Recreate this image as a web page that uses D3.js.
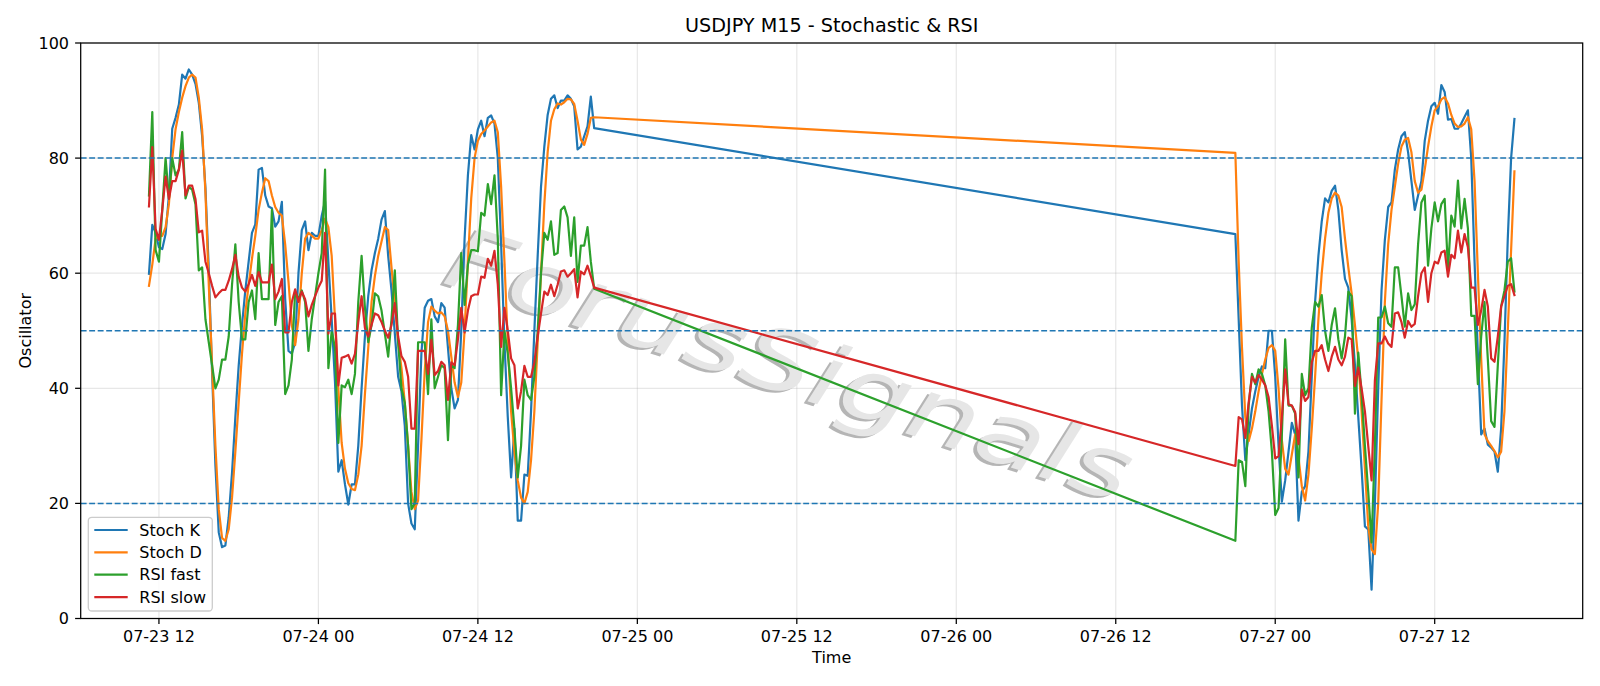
<!DOCTYPE html>
<html><head><meta charset="utf-8">
<script src="https://cdn.jsdelivr.net/npm/d3@7"></script>
<style>body{margin:0;background:#fff}svg{display:block}text{font-family:"DejaVu Sans",sans-serif;fill:#000}</style>
</head><body><svg id="c" width="1600" height="686"></svg>
<script>
const title = "USDJPY M15 - Stochastic & RSI";
const xLabel = "Time", yLabel = "Oscillator";
const watermark = "ForusSignals";
const seg1Start = "2025-07-23T11:15:00Z";
const seg2Start = "2025-07-26T21:00:00Z";
const barMinutes = 15;

const stochK1 = [59.9,68.4,67,64.5,64.2,66.8,73.5,85.1,87,89.3,
94.5,93.8,95.4,94.5,92.9,89.6,83.8,74.8,60.7,42.7,
26.6,15,12.4,12.7,17.6,25.3,35,43.9,51,57,
62,67,68.5,78,78.3,73.5,71.6,71.3,68.1,69,
72.4,55.5,46.5,46,48,60,67.5,69,64,67,
66.5,66.5,70,72.5,62,52,41,25.5,27.5,23.3,
19.8,23.3,23.3,30,40,49,56,60.5,63.5,66,
69.3,70.8,63,57,49.5,42,39.5,33.5,20,16.5,
15.5,30,46,54,55.2,55.5,52.5,51.5,54.8,54,
47,40,36.5,38,50,66,77,84,81.5,85,
86.5,83.8,87,87.4,86,80,65,48,35,24.5,
33,17,17,25,24.8,36,50,63,75,82,
87.5,90.3,90.9,88.7,90,90,90.9,90.3,89,81.5,
82,83.8,85.5,90.7,85.2];
const stochK2 = [66.8,52,37,27.5,32,36.5,39.5,42,43.8,43.5,
50,50,42,30,20.3,24,29,34,32,17,
22,23,29,42,55,63,69,73,72.3,74.3,
75.2,71,64,59,57.5,52,44,35,26,16,
15.5,5,20,40,57,65.8,71.5,72.3,78,81.5,
83.8,84.5,81,76,71,73.5,76,83,86.5,89,
89.6,87.7,92.7,91.5,86.7,86.8,85.1,85.1,86,87.2,
88.3,80,62,46,32,33,30.2,29.7,29,25.5,
33,48,66,80,86.8];

const stochD1 = [57.8,61.5,66,66.5,66.5,68,72,80,85,88,
90.5,92.5,94,94.5,94,90.5,85,74,58,44,
30,19,14,13.5,15.5,21,29,37.5,46,53,
58,62.5,66.5,71,74,76.5,76,73.5,71.5,70.5,
70,65,58.5,51,47.5,52,60,66,67,66.5,
66,66,67.5,69.5,68,63,52,40,30.5,26,
23.5,22.5,22.3,25,30,39,47,55,59.5,63,
65.5,68,67.5,61,55,48,43.5,37.5,30,22,
19,20.5,31,43,51.5,54.2,53.5,53,53.2,52.5,
50,45.5,41,38.5,41,50,62,73,80,83,
84.2,84.8,85.5,86.2,86.5,84.5,75,62,48,36,
29,24,21,20,22,27.5,36,48,60,72,
81,86.5,88.5,89.5,89.3,89.7,90.3,90.2,89.4,86.5,
83.2,82.3,84.2,87,87.1];
const stochD2 = [80.9,62,47,35,30.8,33,36,39.5,42.5,45,
47,47.5,46.5,40,31,26,25,28.5,32,28,
23,20.5,25,33,42,52,60,66,70.5,73,
74,73.5,71.5,66,61,56.5,51,45,36,26,
16,12,11.2,20,38,55,65,71,75,79,
82,83.2,83.5,81,76,74,74.5,78,82,85.5,
88.3,89,90.2,90.6,89.5,87.5,86,85.4,85.5,86,
87.1,85,76,60,45,32,30.8,30,29.1,28,
29,36,50,64,77.7];

const rsiFast1 = [73.5,88,64,62,71,80,73,80,77,78,
84.5,73,75,74.5,72,60.5,61,52,48,44,
40,41.5,45,45,49,58,65,55,48.5,48.5,
55,57,52,63.5,55.5,55.5,55.5,71,51,55,
56,39,40.5,45,56.8,55.5,57,55,46.5,52,
56,60,63.5,78,43.5,50,47,30.5,40.5,40.2,
41.5,39,42.5,55,63,54,48,51,56.5,56,
53.5,49.5,45.5,52,60.5,48,40,37.5,30,19,
20,48,48,48,39,52,40,42,44,43.5,
31,44,43.5,51,63.5,54.5,61.5,64,64,63.8,
70.5,70,75.5,72,77,66,38.8,50,46,40,
33,24.5,30,41.5,38.8,38,42,50,60,67,
65.8,69,63.2,63.5,71,71.6,69.7,63,69.7,58.5,
64.8,64.8,68,62,57.3];
const rsiFast2 = [13.5,27.5,27.2,23,37,42.5,40.7,43.3,42.5,40.5,
36,29,18,19.2,32,48.5,37,37,35.6,24.5,
42.5,38.8,40,50.5,55,54.2,56.2,50,46.5,51,
53.9,48.5,45.2,49,56.8,56,35.6,46.2,39,30,
22,13.2,30,52.3,52.3,54.2,51.3,50.7,61,61,
56,50.7,56.5,53.6,54.6,65,72.3,73.5,61.3,67.8,
72.3,69,72,72.9,60.7,70,68.1,76.1,67.8,72.9,
67.8,52.6,52.6,40.7,49,55,45,34.3,33.3,44,
54.2,57,62,62.6,56.8];

const rsiSlow1 = [71.6,81.9,67.7,65.8,71,76.8,72.9,76,76,78,
81.3,73.5,75.2,75.2,72.9,67.1,67.4,62,60,57.8,
55.8,56.5,57.1,57.1,58.7,60.7,63.2,59.4,57.5,56.8,
58.1,59.7,57.8,60.2,58.4,58.4,58.4,61.5,55.5,56.8,
59,49.7,49.7,55,57.2,55,56.8,55.5,52.5,54.5,
56,57.5,58.7,67,49.5,53,53,40.5,45.3,45.5,
45.8,44.3,46,51.5,56,50.5,49,51,53,52.7,
51.5,50,48.8,51,54.8,49,45.6,44.6,42,33,
33,46.5,46.5,46.5,42.5,48.4,42.3,43,44.6,44,
38,44.5,44,48.5,54,49.7,53.5,56,56.3,56.3,
59.4,59.2,62.5,61.3,63.9,58,47.2,54,50,45.2,
44,36.5,39.5,43.9,42,42,44.5,49,53,56.8,
56.2,58,56,58,60.3,60.5,59.4,60,60.7,55.8,
60.3,59.8,61.3,59.5,57.5];
const rsiSlow2 = [26.5,35,34.6,31.4,37.5,42,41,42.3,41.5,40.5,
38.5,33.5,27.8,28.2,35,43.3,37.2,37,35.9,30.3,
39.8,37.8,38.5,44.5,46.5,46.5,47.5,45,43,45.5,
47.2,45,44,45.5,48.8,48.5,40.4,43.6,40,36,
30,24,41.4,47.8,47.8,49,47.8,47.2,53,53.2,
51.5,48.8,51.7,50.7,51.2,56,60,61,55,60,
62,61.7,63.6,63.9,59.4,63.2,62.6,67.4,63.6,66.8,
64.5,57.5,57.5,51,53.5,57.1,54.2,45.2,44.6,49,
54.2,56,57.8,58.1,56.2];

const xTickTimes = ["2025-07-23T12:00:00Z","2025-07-24T00:00:00Z","2025-07-24T12:00:00Z","2025-07-25T00:00:00Z","2025-07-25T12:00:00Z","2025-07-26T00:00:00Z","2025-07-26T12:00:00Z","2025-07-27T00:00:00Z","2025-07-27T12:00:00Z"];
const yTickValues = [0,20,40,60,80,100];
const levels = [20,50,80];
const seriesNames = ["Stoch K","Stoch D","RSI fast","RSI slow"];
const seriesColors = ["#1f77b4","#ff7f0e","#2ca02c","#d62728"];

function times(start, n){ const t0 = Date.parse(start); return d3.range(n).map(i => new Date(t0 + i*barMinutes*60000)); }
const allTimes = times(seg1Start, stochK1.length).concat(times(seg2Start, stochK2.length));
const seriesValues = [stochK1.concat(stochK2), stochD1.concat(stochD2), rsiFast1.concat(rsiFast2), rsiSlow1.concat(rsiSlow2)];

const L = 80.7, R = 1582.7, T = 43, B = 618.5;
const FS = 16, TL = 5.6;
const ext = d3.extent(allTimes);
const pad = (ext[1]-ext[0])*0.05;
const x = d3.scaleUtc().domain([new Date(+ext[0]-pad), new Date(+ext[1]+pad)]).range([L, R]);
const y = d3.scaleLinear().domain([0,100]).range([B, T]);
const svg = d3.select("#c");
const fmt = d3.utcFormat("%m-%d %H");
const xt = xTickTimes.map(s => new Date(s));

// grid
const g = svg.append("g");
g.selectAll(".gx").data(xt).join("line").attr("x1",d=>x(d)).attr("x2",d=>x(d)).attr("y1",T).attr("y2",B)
  .attr("stroke","#b0b0b0").attr("stroke-opacity",0.3).attr("stroke-width",1.2);
g.selectAll(".gy").data(yTickValues).join("line").attr("x1",L).attr("x2",R).attr("y1",d=>y(d)).attr("y2",d=>y(d))
  .attr("stroke","#b0b0b0").attr("stroke-opacity",0.3).attr("stroke-width",1.2);

// watermark (beneath the lines)
const wm = svg.append("g").attr("transform","translate(790,364) rotate(18)");
wm.append("text").attr("x",-3).attr("y",3).attr("text-anchor","middle").attr("dy","0.35em")
  .attr("font-size",86).attr("font-style","italic").attr("textLength",715).attr("lengthAdjust","spacingAndGlyphs")
  .style("fill","#a8a8a8").style("fill-opacity",0.85).text(watermark);
wm.append("text").attr("x",0).attr("y",0).attr("text-anchor","middle").attr("dy","0.35em")
  .attr("font-size",86).attr("font-style","italic").attr("textLength",715).attr("lengthAdjust","spacingAndGlyphs")
  .style("fill","#e6e6e6").style("fill-opacity",1).text(watermark);

// series
svg.append("clipPath").attr("id","pc").append("rect").attr("x",L).attr("y",T).attr("width",R-L).attr("height",B-T);
const plot = svg.append("g").attr("clip-path","url(#pc)");
seriesValues.forEach((vals,k)=>{
  const line = d3.line().x((d,i)=>x(allTimes[i])).y(d=>y(d));
  plot.append("path").attr("d", line(vals)).attr("fill","none").attr("stroke",seriesColors[k])
    .attr("stroke-width",2.2).attr("stroke-linejoin","round").attr("stroke-linecap","square");
});
// levels
plot.selectAll(".lv").data(levels).join("line").attr("x1",L).attr("x2",R).attr("y1",d=>y(d)).attr("y2",d=>y(d))
  .attr("stroke","#1f77b4").attr("stroke-width",1.5).attr("stroke-dasharray","5.9,2.6");

// frame
svg.append("rect").attr("x",L).attr("y",T).attr("width",R-L).attr("height",B-T).attr("fill","none").attr("stroke","#000").attr("stroke-width",1.25);

// axes
const ax = svg.append("g");
ax.selectAll(".tx").data(xt).join("line").attr("x1",d=>x(d)).attr("x2",d=>x(d)).attr("y1",B).attr("y2",B+TL).attr("stroke","#000").attr("stroke-width",1.25);
ax.selectAll(".lx").data(xt).join("text").attr("x",d=>x(d)).attr("y",642).attr("text-anchor","middle").attr("font-size",FS).text(d=>fmt(d));
ax.selectAll(".ty").data(yTickValues).join("line").attr("x1",L-TL).attr("x2",L).attr("y1",d=>y(d)).attr("y2",d=>y(d)).attr("stroke","#000").attr("stroke-width",1.25);
ax.selectAll(".ly").data(yTickValues).join("text").attr("x",L-2*TL-0.5).attr("y",d=>y(d)).attr("dy","0.36em").attr("text-anchor","end").attr("font-size",FS).text(d=>d);

// labels
svg.append("text").attr("x",(L+R)/2).attr("y",32).attr("text-anchor","middle").attr("font-size",19.2).text(title);
svg.append("text").attr("x",(L+R)/2).attr("y",663).attr("text-anchor","middle").attr("font-size",FS).text(xLabel);
svg.append("text").attr("transform",`translate(31,${(T+B)/2}) rotate(-90)`).attr("text-anchor","middle").attr("font-size",FS).text(yLabel);

// legend
const lg = svg.append("g");
lg.append("rect").attr("x",88.3).attr("y",517.3).attr("width",124).attr("height",93.7).attr("rx",3.5)
  .attr("fill","#fff").attr("fill-opacity",0.8).attr("stroke","#cccccc").attr("stroke-width",1.3);
seriesNames.forEach((n,k)=>{
  const yy = 530 + k*22.35;
  lg.append("line").attr("x1",94.3).attr("x2",127.7).attr("y1",yy).attr("y2",yy).attr("stroke",seriesColors[k]).attr("stroke-width",2.2);
  lg.append("text").attr("x",139.3).attr("y",yy).attr("dy","0.36em").attr("font-size",FS).text(n);
});
</script></body></html>
